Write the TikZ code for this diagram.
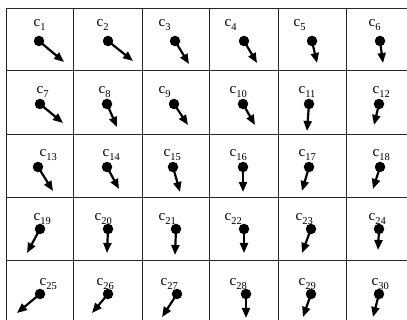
\documentclass[tikz,border=0pt]{standalone}
\usepackage{fontspec}
\setmainfont{Liberation Serif}
\usetikzlibrary{arrows.meta}
\newcommand\clab[1]{c\raisebox{-0.45ex}{\fontsize{10.5}{10.5}\selectfont #1}}
\tikzset{
  grid line/.style={draw=black!85, line width=1pt},
  dotnode/.style={circle, fill=black, inner sep=0pt, minimum size=10.5pt},
  vecarrow/.style={draw=black, line width=2.2pt, -{Triangle[length=10pt,width=8pt]}, shorten <=-2pt},
  labnode/.style={anchor=base west, inner sep=0pt, font=\fontsize{15}{15}\selectfont}
}
\begin{document}
\begin{tikzpicture}[x=1pt,y=-1pt]
\useasboundingbox (0,0) rectangle (407,320);
\fill[white] (0,0) rectangle (407,320);
% grid
\foreach \x in {6,73,142,209,278,346}{\draw[grid line] (\x,9) -- (\x,320);}
\foreach \y in {9,71,135,198,261}{\draw[grid line] (6,\y) -- (407,\y);}
% cells
\foreach \i/\lx/\ly/\dx/\dy/\tx/\ty in {
 1/37/23/39/41/64/62, 2/100/23/108/41/133/61, 3/162/23/175/41/189/64,
 4/228/23/244/41/257/63, 5/297/23/312/41/317/63, 6/372/23/380/41/383/63,
 7/40/90/40/104/63/123, 8/102/90/107/104/117/127, 9/162/90/174/104/188/125,
 10/233/90/243/104/255/125, 11/302/90/309/104/307/131, 12/376/90/379/104/374/125,
 13/43/153/38/167/53/191, 14/106/153/107/167/119/189, 15/167/153/173/167/180/192,
 16/233/153/243/167/243/192, 17/302/153/309/167/302/191, 18/376/153/380/167/373/189,
 19/37/217/40/229/27/253, 20/98/217/108/229/107/253, 21/162/217/176/229/175/255,
 22/228/217/244/229/244/253, 23/299/217/311/229/302/253, 24/372/217/379/229/378/250,
 25/43/282/40/294/17/313, 26/100/282/108/294/92/313, 27/164/282/177/294/162/317,
 28/233/282/246/294/246/318, 29/302/282/311/294/303/317, 30/375/282/379/294/373/317}{
  \node[labnode] (l\i) at (\lx-3.5,\ly+4) {\clab{\i}};
  \node[dotnode] (d\i) at (\dx,\dy) {};
  \coordinate (t\i) at (\tx,\ty);
  \draw[vecarrow] (d\i.center) -- (t\i);
}
\end{tikzpicture}
\end{document}
